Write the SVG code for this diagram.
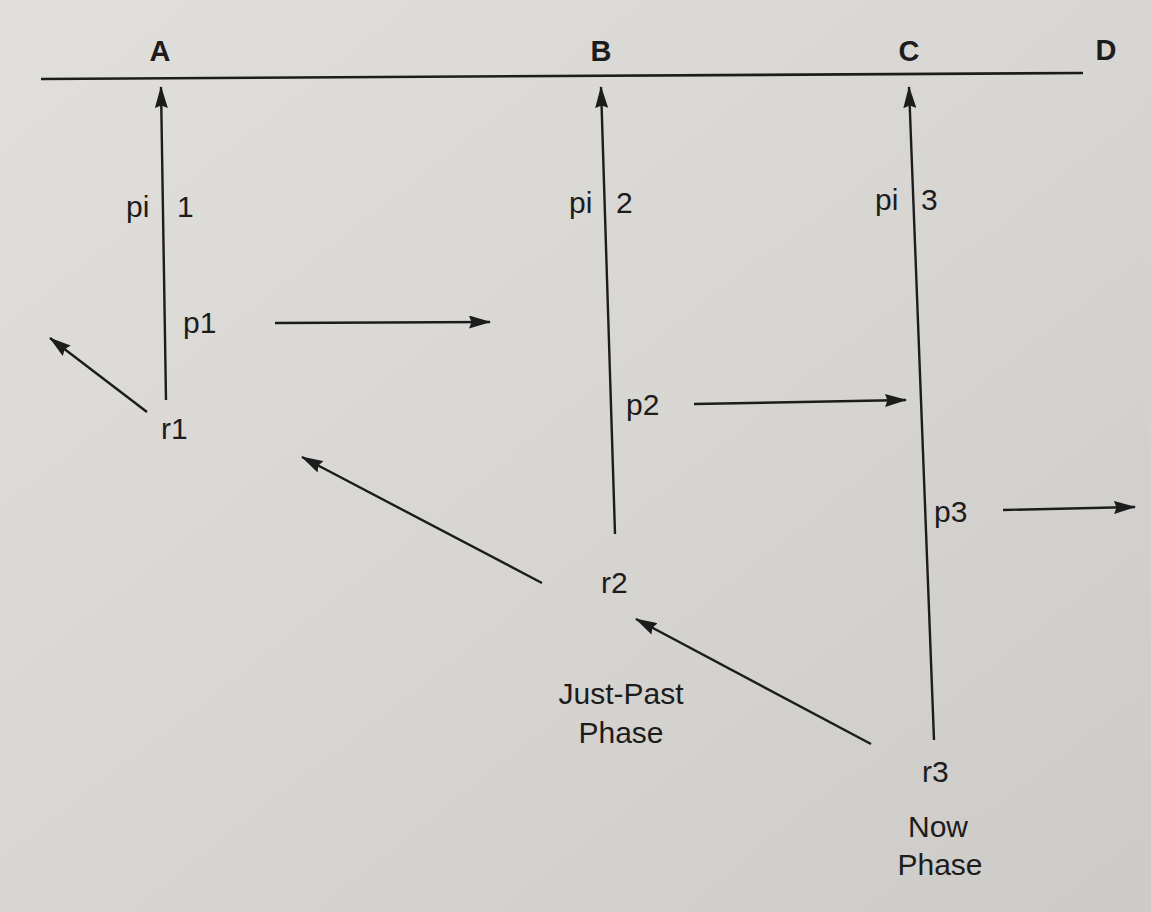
<svg xmlns="http://www.w3.org/2000/svg" width="1151" height="912" viewBox="0 0 1151 912">
  <style>
    .lbl { font-family: "Liberation Sans", Arial, sans-serif; font-size: 30px; fill: #1c1c1c; }
    .hdr { font-family: "Liberation Sans", Arial, sans-serif; font-size: 29px; font-weight: bold; fill: #1c1c1c; text-anchor: middle; }
    .mid { text-anchor: middle; }
    .ln  { stroke: #1c1c1c; stroke-width: 2.6; fill: none; }
    .arr { stroke: #1c1c1c; stroke-width: 2.4; fill: none; marker-end: url(#head); }
  </style>
  <defs>
    <linearGradient id="paper" x1="0" y1="0" x2="1" y2="1">
      <stop offset="0" stop-color="#e1dfdb"/>
      <stop offset="0.5" stop-color="#d8d6d2"/>
      <stop offset="1" stop-color="#cdcbc7"/>
    </linearGradient>
    <marker id="head" viewBox="0 0 22 13" refX="21" refY="6.5" markerWidth="22" markerHeight="13" markerUnits="userSpaceOnUse" orient="auto">
      <path d="M0,0 L22,6.5 L0,13 L2.5,6.5 z" fill="#1c1c1c"/>
    </marker>
  </defs>

  <!-- page -->
  <rect x="0" y="0" width="1151" height="912" fill="url(#paper)"/>

  <!-- timeline with column headings -->
  <g id="timeline">
    <line class="ln" x1="41" y1="79" x2="1083" y2="73"/>
    <text class="hdr" x="160" y="61">A</text>
    <text class="hdr" x="601" y="61">B</text>
    <text class="hdr" x="909" y="61">C</text>
    <text class="hdr" x="1106" y="60">D</text>
  </g>

  <!-- connectors -->
  <g id="connectors">
    <line class="arr" x1="166" y1="400" x2="161" y2="87"/>
    <line class="arr" x1="615" y1="534" x2="601" y2="87"/>
    <line class="arr" x1="934" y1="740" x2="909" y2="87"/>
    <line class="arr" x1="147" y1="412" x2="50" y2="338"/>
    <line class="arr" x1="275" y1="323" x2="490" y2="322"/>
    <line class="arr" x1="694" y1="404" x2="906" y2="400"/>
    <line class="arr" x1="542" y1="583" x2="302" y2="457"/>
    <line class="arr" x1="1003" y1="510" x2="1135" y2="507"/>
    <line class="arr" x1="871" y1="744" x2="636" y2="619"/>
  </g>

  <!-- phase 1 -->
  <g id="pi1">
    <text class="lbl" x="126" y="217">pi</text>
    <text class="lbl" x="177" y="217">1</text>
  </g>
  <g id="p1"><text class="lbl" x="183" y="333">p1</text></g>
  <g id="r1"><text class="lbl" x="161" y="439">r1</text></g>

  <!-- phase 2 -->
  <g id="pi2">
    <text class="lbl" x="569" y="213">pi</text>
    <text class="lbl" x="616" y="213">2</text>
  </g>
  <g id="p2"><text class="lbl" x="626" y="415">p2</text></g>
  <g id="r2"><text class="lbl" x="601" y="593">r2</text></g>
  <g id="just-past">
    <text class="lbl mid" x="621" y="704">Just-Past</text>
    <text class="lbl mid" x="621" y="743">Phase</text>
  </g>

  <!-- phase 3 -->
  <g id="pi3">
    <text class="lbl" x="875" y="210">pi</text>
    <text class="lbl" x="921" y="210">3</text>
  </g>
  <g id="p3"><text class="lbl" x="934" y="522">p3</text></g>
  <g id="r3"><text class="lbl" x="922" y="782">r3</text></g>
  <g id="now">
    <text class="lbl mid" x="938" y="837">Now</text>
    <text class="lbl mid" x="940" y="875">Phase</text>
  </g>
</svg>
